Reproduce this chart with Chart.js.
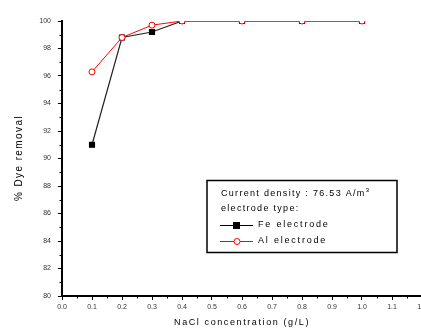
<!DOCTYPE html>
<html>
<head>
<meta charset="utf-8">
<script src="https://cdn.jsdelivr.net/npm/chart.js@4.4.0/dist/chart.umd.min.js"></script>
<style>
  html, body { margin: 0; padding: 0; background: #fff; overflow: hidden; }
  #wrap { width: 421px; height: 332px; overflow: hidden; position: relative; }
  #c { position: absolute; left: 0; top: 0; }
</style>
</head>
<body>
<div id="wrap"><canvas id="c" width="440" height="332"></canvas></div>
<script>
// NaCl concentration (g/L)
const nacl = [0.1, 0.2, 0.3, 0.4, 0.6, 0.8, 1.0];
// % dye removal
const feRemoval = [91.0, 98.8, 99.2, 100, 100, 100, 100];
const alRemoval = [96.3, 98.8, 99.7, 100, 100, 100, 100];

const legendLines = ['Current density : 76.53 A/m', 'electrode type:'];
const seriesNames = ['Fe electrode', 'Al electrode'];

const FONT = '"Liberation Sans", Arial, sans-serif';

function pts(ys) { return nacl.map((x, i) => ({ x: x, y: ys[i] })); }

// minor ticks + axis titles + legend box
const extras = {
  id: 'extras',
  afterDraw(chart) {
    const ctx = chart.ctx;
    const xs = chart.scales.x, ys = chart.scales.y;
    const ca = chart.chartArea;
    ctx.save();
    ctx.strokeStyle = '#000';
    ctx.lineWidth = 1;
    // minor ticks
    ctx.beginPath();
    for (let v = 0.05; v < 1.2; v += 0.1) {
      const px = Math.round(xs.getPixelForValue(v)) + 0.5;
      ctx.moveTo(px, ca.bottom); ctx.lineTo(px, ca.bottom + 2.5);
    }
    for (let v = 81; v < 100; v += 2) {
      const py = Math.round(ys.getPixelForValue(v)) + 0.5;
      ctx.moveTo(ca.left, py); ctx.lineTo(ca.left - 2.5, py);
    }
    ctx.stroke();

    // axis titles
    ctx.fillStyle = '#000';
    ctx.font = '9px ' + FONT;
    ctx.letterSpacing = '1.6px';
    ctx.textAlign = 'center';
    ctx.textBaseline = 'middle';
    ctx.fillText('NaCl concentration (g/L)', 242, 323);
    ctx.save();
    ctx.translate(19, 158);
    ctx.rotate(-Math.PI / 2);
    ctx.letterSpacing = '1.4px';
    ctx.font = '10px ' + FONT;
    ctx.fillText('% Dye removal', 0, 0);
    ctx.restore();

    // legend box
    ctx.lineWidth = 1.5;
    ctx.strokeRect(207, 180.5, 190, 72);
    ctx.lineWidth = 1;
    ctx.textAlign = 'left';
    ctx.letterSpacing = '1.3px';
    ctx.font = '9px ' + FONT;
    ctx.fillText(legendLines[0], 221, 194);
    const w0 = ctx.measureText(legendLines[0]).width;
    ctx.font = '6px ' + FONT;
    ctx.fillText('3', 221 + w0, 190);
    ctx.font = '9px ' + FONT;
    ctx.fillText(legendLines[1], 221, 209);
    ctx.letterSpacing = '1.8px';
    // Fe sample
    ctx.strokeStyle = '#000';
    ctx.beginPath(); ctx.moveTo(220, 225.5); ctx.lineTo(253, 225.5); ctx.stroke();
    ctx.fillStyle = '#000';
    ctx.fillRect(233, 222, 7, 7);
    ctx.fillText(seriesNames[0], 258, 225);
    // Al sample
    ctx.strokeStyle = '#f00';
    ctx.beginPath(); ctx.moveTo(220, 241.5); ctx.lineTo(253, 241.5); ctx.stroke();
    ctx.fillStyle = '#fff';
    ctx.beginPath(); ctx.arc(237, 241.5, 3, 0, Math.PI * 2); ctx.fill(); ctx.stroke();
    ctx.fillStyle = '#000';
    ctx.fillText(seriesNames[1], 258, 241);
    ctx.restore();
  }
};

new Chart(document.getElementById('c').getContext('2d'), {
  type: 'scatter',
  data: {
    datasets: [
      {
        label: seriesNames[1],
        data: pts(alRemoval),
        showLine: true,
        borderColor: '#ff0000',
        borderWidth: 1,
        pointStyle: 'circle',
        pointRadius: 3,
        pointBackgroundColor: '#fff',
        pointBorderColor: '#ff0000',
        pointBorderWidth: 1,
        order: 0
      },
      {
        label: seriesNames[0],
        data: pts(feRemoval),
        showLine: true,
        borderColor: '#222',
        borderWidth: 1.2,
        pointStyle: 'rect',
        pointRadius: 3.5,
        pointBackgroundColor: '#000',
        pointBorderColor: '#000',
        order: 1
      }
    ]
  },
  options: {
    responsive: false,
    animation: false,
    layout: { padding: { left: 0, top: 21, right: 18, bottom: 0 } },
    plugins: { legend: { display: false }, tooltip: { enabled: false } },
    scales: {
      x: {
        type: 'linear', min: 0, max: 1.2,
        grid: { display: true, drawOnChartArea: false, color: '#000', tickLength: 4, tickWidth: 1 },
        border: { display: true, color: '#000', width: 2 },
        ticks: {
          stepSize: 0.1, padding: 3, color: '#333',
          font: { size: 7, family: FONT },
          callback: v => v.toFixed(1)
        },
        afterFit: s => { s.height = 36; }
      },
      y: {
        type: 'linear', min: 80, max: 100,
        grid: { display: true, drawOnChartArea: false, color: '#000', tickLength: 4, tickWidth: 1 },
        border: { display: true, color: '#000', width: 2 },
        ticks: {
          stepSize: 2, padding: 7, color: '#333',
          font: { size: 7, family: FONT },
          callback: v => String(v)
        },
        afterFit: s => { s.width = 62; }
      }
    }
  },
  plugins: [extras]
});
</script>
</body>
</html>
